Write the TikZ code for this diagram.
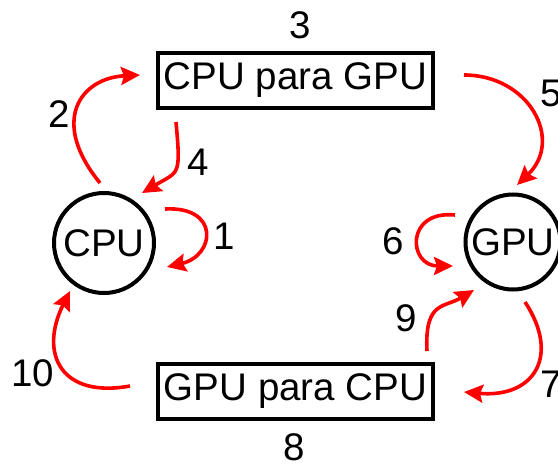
\documentclass[tikz,border=0pt]{standalone}
\usepackage{fontspec}
\setmainfont{Liberation Sans}
\usetikzlibrary{arrows.meta}
\begin{document}
\begin{tikzpicture}[x=1pt,y=-1pt,
  every node/.style={font=\fontsize{38.5}{40}\selectfont},
  proc/.style={draw,line width=4pt,circle,inner sep=0pt,outer sep=0pt},
  buf/.style={draw,line width=4pt,rectangle,minimum width=275pt,minimum height=55pt,inner sep=0pt,outer sep=0pt},
  num/.style={inner sep=0pt},
  flow/.style={draw=red,line width=3.6pt,-{Stealth[length=19pt,width=18pt,inset=3pt]}}]
\useasboundingbox (0,0) rectangle (558,466);
\node[proc,minimum size=100pt] (cpu) at (104,243) {CPU};
\node[proc,minimum size=95pt] (gpu) at (513,242) {GPU};
\node[buf] (ctg) at (295.5,80) {CPU para GPU};
\node[buf] (gtc) at (295.5,391) {GPU para CPU};
% arrows
\draw[flow] ([shift={(61,-34)}]cpu.center) .. controls +(55,-3) and +(48.5,-11.5) .. ([shift={(63,24)}]cpu.center);
\draw[flow] ([shift={(-4,-60)}]cpu.center) .. controls +(-50.4,-61.6) and +(-60,3) .. ([shift={(-18,-5)}]ctg.west);
\draw[flow] ([shift={(-119.5,14.5)}]ctg.south) .. controls +(5,55) and +(37,-22) .. ([shift={(38,-50)}]cpu.center);
\draw[flow] ([shift={(31,-5)}]ctg.east) .. controls +(65,0) and +(47.1,-44.9) .. ([shift={(4,-9.5)}]gpu.north);
\draw[flow] ([shift={(-58,-27)}]gpu.center) .. controls +(-50,-5) and +(-45,0) .. ([shift={(-60,24)}]gpu.center);
\draw[flow] ([shift={(12,12.5)}]gpu.south) .. controls +(35.75,54) and +(70,6.3) .. ([shift={(31,1)}]gtc.east);
\draw[flow] ([shift={(-6,-12.5)}]gtc.north east) .. controls +(-2.5,-50) and +(-30,18) .. ([shift={(-39,48)}]gpu.center);
\draw[flow] ([shift={(-28,-5)}]gtc.west) .. controls +(-68.6,12.6) and +(-31.5,63) .. ([shift={(-34,48)}]cpu.center);
% labels
\node[num] (n1) at (224,236) {1};
\node[num] (n2) at (59,114) {2};
\node[num] (n3) at (300.5,25) {3};
\node[num] (n4) at (198,162) {4};
\node[num] (n5) at (551,93) {5};
\node[num] (n6) at (393,241) {6};
\node[num] (n7) at (551,384) {7};
\node[num] (n8) at (294,447.5) {8};
\node[num] (n9) at (406.5,318) {9};
\node[num] (n10) at (32.5,373.5) {10};
\end{tikzpicture}
\end{document}
